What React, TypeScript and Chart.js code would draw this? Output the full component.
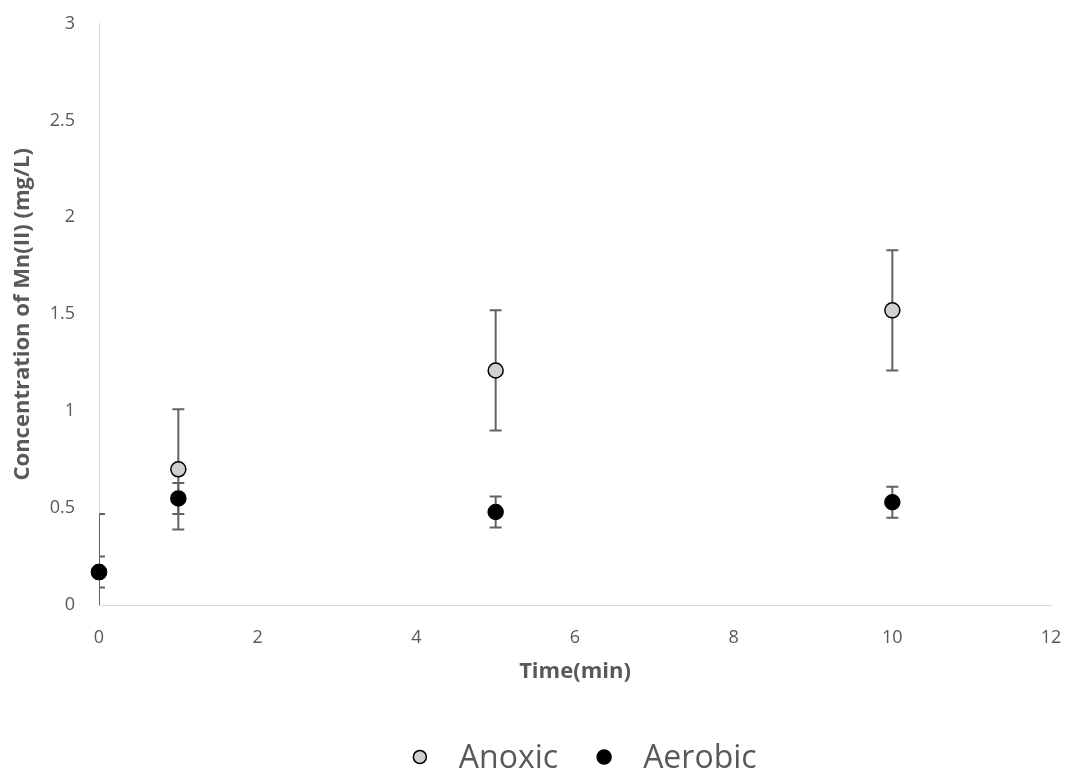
import { useEffect, useRef } from "react";
import { Chart, registerables } from "chart.js";

Chart.register(...registerables);

// Sampling times (min) and Mn(II) concentrations (mg/L) with their error half-widths
const timeMin = [0, 1, 5, 10];
const anoxicMn = [0.17, 0.7, 1.21, 1.52];
const anoxicErr = [0.3, 0.31, 0.31, 0.31];
const aerobicMn = [0.17, 0.55, 0.48, 0.53];
const aerobicErr = [0.08, 0.08, 0.08, 0.08];
const seriesNames = ["Anoxic", "Aerobic"];
const xAxisTitle = "Time(min)";
const yAxisTitle = "Concentration of Mn(II) (mg/L)";

const TEXT = "#595959";
const AXIS = "#d9d9d9";
const FONT = "'Open Sans', 'DejaVu Sans', sans-serif";
const seriesFill = ["#d0d0d0", "#000000"];
const seriesErr = [anoxicErr, aerobicErr];

// Vertical error bars with caps, drawn beneath the markers and clipped to the plot area
const errorBarPlugin = {
  id: "errorBars",
  beforeDatasetsDraw(chart: any) {
    const { ctx, chartArea, scales } = chart;
    const xs = scales.x;
    const ys = scales.y;
    ctx.save();
    ctx.beginPath();
    ctx.rect(chartArea.left, chartArea.top, chartArea.right - chartArea.left, chartArea.bottom - chartArea.top);
    ctx.clip();
    ctx.strokeStyle = "#626262";
    ctx.lineWidth = 2;
    chart.data.datasets.forEach((ds: any, di: number) => {
      const errs = seriesErr[di];
      ds.data.forEach((pt: any, i: number) => {
        const e = errs[i];
        const px = xs.getPixelForValue(pt.x);
        const top = ys.getPixelForValue(pt.y + e);
        const bot = ys.getPixelForValue(pt.y - e);
        const cap = 6;
        ctx.beginPath();
        ctx.moveTo(px, top);
        ctx.lineTo(px, bot);
        ctx.moveTo(px - cap, top);
        ctx.lineTo(px + cap, top);
        ctx.moveTo(px - cap, bot);
        ctx.lineTo(px + cap, bot);
        ctx.stroke();
      });
    });
    ctx.restore();
  },
};

// Legend row under the plot: small marker followed by the series name
const legendPlugin = {
  id: "bottomLegend",
  afterDraw(chart: any) {
    const { ctx, chartArea } = chart;
    ctx.save();
    ctx.font = `32px ${FONT}`;
    ctx.textBaseline = "alphabetic";
    ctx.textAlign = "left";
    const radius = [6.5, 7];
    const markerToText = 39;
    const textToMarker = 46;
    const widths = seriesNames.map((n) => ctx.measureText(n).width);
    const total = radius[0] + markerToText + widths[0] + textToMarker + markerToText + widths[1];
    const cx = (chartArea.left + chartArea.right) / 2 + 10;
    let x = cx - total / 2 + radius[0];
    const cy = 757;
    seriesNames.forEach((name, i) => {
      ctx.beginPath();
      ctx.arc(x, cy, radius[i], 0, Math.PI * 2);
      ctx.fillStyle = seriesFill[i];
      ctx.fill();
      ctx.lineWidth = 1.5;
      ctx.strokeStyle = "#000000";
      ctx.stroke();
      ctx.fillStyle = TEXT;
      ctx.fillText(name, x + markerToText, 768);
      x += markerToText + widths[i] + textToMarker;
    });
    ctx.restore();
  },
};

function noScalePadding(scale: any) {
  scale.paddingTop = 0;
  scale.paddingBottom = 0;
  scale.paddingLeft = 0;
  scale.paddingRight = 0;
}

export default function App() {
  const canvasRef = useRef<HTMLCanvasElement | null>(null);

  useEffect(() => {
    if (!canvasRef.current) return;
    const chart = new Chart(canvasRef.current, {
      type: "scatter",
      data: {
        datasets: [
          {
            label: seriesNames[0],
            data: timeMin.map((t, i) => ({ x: t, y: anoxicMn[i] })),
            backgroundColor: seriesFill[0],
            borderColor: "#000000",
            borderWidth: 1.5,
            pointRadius: 7.5,
            clip: false,
            order: 1,
          },
          {
            label: seriesNames[1],
            data: timeMin.map((t, i) => ({ x: t, y: aerobicMn[i] })),
            backgroundColor: seriesFill[1],
            borderColor: "#000000",
            borderWidth: 1.5,
            pointRadius: 7.5,
            clip: false,
            order: 0,
          },
        ],
      },
      options: {
        responsive: false,
        animation: false,
        layout: { padding: { top: 23.5, right: 16, left: 0, bottom: 79 } },
        plugins: {
          legend: { display: false },
          tooltip: { enabled: false },
        },
        scales: {
          x: {
            type: "linear",
            min: 0,
            max: 12,
            ticks: { stepSize: 2, color: TEXT, font: { family: FONT, size: 18 }, padding: 22 },
            grid: { display: false, drawTicks: false },
            border: { display: true, color: AXIS, width: 1 },
            title: {
              display: true,
              text: xAxisTitle,
              color: TEXT,
              font: { family: FONT, size: 22, weight: "bold" },
              padding: { top: 0, bottom: 6 },
            },
            afterFit(scale: any) {
              scale.height = 86;
              noScalePadding(scale);
            },
          },
          y: {
            type: "linear",
            min: 0,
            max: 3,
            ticks: {
              stepSize: 0.5,
              color: TEXT,
              font: { family: FONT, size: 18 },
              padding: 24,
              callback: (v: any) => String(v),
            },
            grid: { display: false, drawTicks: false },
            border: { display: true, color: AXIS, width: 1 },
            title: {
              display: true,
              text: yAxisTitle,
              color: TEXT,
              font: { family: FONT, size: 22, weight: "bold" },
              padding: { top: 10, bottom: 0 },
            },
            afterFit(scale: any) {
              scale.width = 99;
              noScalePadding(scale);
            },
          },
        },
      },
      plugins: [errorBarPlugin, legendPlugin],
    } as any);
    return () => chart.destroy();
  }, []);

  return (
    <div style={{ position: "fixed", left: 0, top: 0, width: 1067, height: 770, background: "#ffffff" }}>
      <canvas ref={canvasRef} width={1067} height={770} />
    </div>
  );
}
